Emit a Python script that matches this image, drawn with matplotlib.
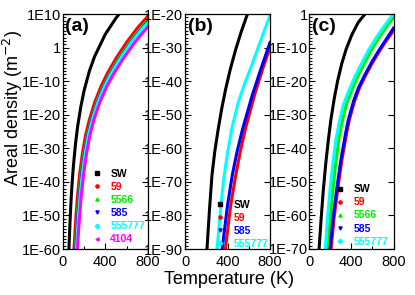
import numpy as np
import matplotlib.pyplot as plt
from matplotlib.lines import Line2D
from matplotlib.ticker import FixedLocator, FuncFormatter, NullFormatter

plt.rcParams['font.family'] = ['Liberation Sans', 'DejaVu Sans']

# series names / colours / markers
colors = {"SW": "black", "59": "#ff0000", "5566": "#00ee00", "585": "#0000ff",
          "555777": "#00ffff", "4104": "#ff00ff"}
markers = {"SW": "s", "59": "o", "5566": "^", "585": "v", "555777": "D", "4104": "<"}

# panel (a): temperature (K) and log10 of areal density (m^-2)
a_sw_T = [55, 60, 70, 80, 90, 100, 120, 140, 170, 200, 250, 300, 400, 500, 530, 560]
a_sw_logn = [-63.4, -58.6, -50.8, -44.6, -39.6, -35.4, -28.7, -23.5, -17.6, -12.9, -7.0, -2.6, 4.0, 8.8, 10.0, 11.1]
a_59_T = [100, 106, 115, 125, 140, 160, 185, 215, 250, 300, 360, 420, 500, 600, 700, 800]
a_59_logn = [-63.5, -60, -55, -50, -44, -37.5, -31.5, -26, -21.5, -16.3, -11.5, -7.6, -3.2, 1.6, 5.8, 9.4]
a_5566_T = [113, 119, 128, 138, 154, 174, 200, 231, 267, 319, 381, 444, 527, 631, 734, 800]
a_5566_logn = [-63.5, -60, -55, -50, -44, -37.5, -31.5, -26, -21.5, -16.3, -11.5, -7.6, -3.2, 1.6, 5.8, 8.2]
a_585_T = [118, 124, 133, 143, 158, 179, 205, 236, 272, 325, 388, 452, 536, 641, 745, 800]
a_585_logn = [-63.5, -60, -55, -50, -44, -37.5, -31.5, -26, -21.5, -16.3, -11.5, -7.6, -3.2, 1.6, 5.8, 7.7]
a_555777_T = [123, 129, 138, 148, 163, 184, 210, 241, 277, 330, 393, 457, 541, 646, 750, 800]
a_555777_logn = [-63.5, -60, -55, -50, -44, -37.5, -31.5, -26, -21.5, -16.3, -11.5, -7.6, -3.2, 1.6, 5.8, 7.4]
a_4104_T = [132, 138, 148, 159, 175, 197, 224, 256, 293, 348, 415, 482, 570, 678, 740, 800]
a_4104_logn = [-63.5, -60, -55, -50, -44, -37.5, -31.5, -26, -21.5, -16.3, -11.5, -7.6, -3.2, 1.6, 4.0, 6.2]

# panel (b)
b_sw_T = [200, 207, 230, 254, 280, 311, 345, 381, 425, 476, 530, 588, 610]
b_sw_logn = [-93.5, -90, -78.5, -68, -61, -54.6, -48.3, -42.6, -36.6, -30.7, -25.2, -20, -18.2]
b_59_T = [372, 380, 430, 475, 520, 570, 660, 735, 800]
b_59_logn = [-92, -90, -77, -68.5, -61, -54, -43.5, -36, -30]
b_585_T = [343, 350, 400, 445, 490, 540, 635, 715, 800]
b_585_logn = [-92, -90, -77, -68, -61, -54.5, -44, -36.3, -28.5]
b_555777_T = [296, 302, 335, 365, 400, 445, 500, 556, 620, 683, 740, 800]
b_555777_logn = [-92, -90, -78, -69, -61.5, -53.5, -46.5, -41.2, -36, -30.5, -25.5, -20.5]

# panel (c)
c_sw_T = [88, 93, 110, 133, 155, 181, 205, 238, 270, 309, 350, 404, 465, 530, 560]
c_sw_logn = [-72.5, -70, -62, -52.5, -45, -37.5, -31.5, -25, -19.8, -14.7, -10.5, -6.2, -2.5, 0, 1.1]
c_59_T = [200, 207, 235, 271, 310, 355, 381, 430, 477, 540, 604, 670, 731, 800]
c_59_logn = [-72.5, -70, -61, -52, -43.5, -35.5, -31.5, -26, -22, -18, -14.3, -10.9, -8.0, -5.0]
c_5566_T = [174, 179, 199, 222, 249, 282, 317, 351, 407, 462, 527, 589, 652, 717, 772, 800]
c_5566_logn = [-72, -70, -61, -53, -45, -37, -31.5, -27, -22.5, -18.5, -14.5, -10.8, -7.6, -4.6, -2.2, -1.1]
c_585_T = [190, 197, 225, 261, 300, 345, 371, 420, 467, 530, 594, 660, 721, 800]
c_585_logn = [-72.5, -70, -61, -52, -43.5, -35.5, -31.5, -26, -22, -18, -14.3, -10.9, -8.0, -4.2]
c_555777_T = [147, 152, 172, 195, 222, 255, 290, 324, 380, 435, 500, 562, 625, 690, 745, 800]
c_555777_logn = [-72, -70, -61, -53, -45, -37, -31.5, -27, -22.5, -18.5, -14.5, -10.8, -7.6, -4.6, -2.2, 0]

panels = [
    ("(a)", (-60, 10), [("SW", a_sw_T, a_sw_logn), ("59", a_59_T, a_59_logn),
                        ("5566", a_5566_T, a_5566_logn), ("585", a_585_T, a_585_logn),
                        ("555777", a_555777_T, a_555777_logn), ("4104", a_4104_T, a_4104_logn)],
     (0.35, 0.02)),
    ("(b)", (-90, -20), [("SW", b_sw_T, b_sw_logn), ("59", b_59_T, b_59_logn),
                         ("585", b_585_T, b_585_logn), ("555777", b_555777_T, b_555777_logn)],
     (0.36, 0.0)),
    ("(c)", (-70, 0), [("SW", c_sw_T, c_sw_logn), ("59", c_59_T, c_59_logn),
                       ("5566", c_5566_T, c_5566_logn), ("585", c_585_T, c_585_logn),
                       ("555777", c_555777_T, c_555777_logn)],
     (0.32, 0.01)),
]

lefts = [62.7, 185.0, 309.3]
rights = [148.0, 270.0, 393.5]


def dec_label(v, pos):
    e = int(round(np.log10(v)))
    return "1" if e == 0 else f"1E{e}"


fig = plt.figure(figsize=(4.15, 2.95), dpi=100)
for (tag, (lo, hi), series, leg_xy), l, r in zip(panels, lefts, rights):
    ax = fig.add_axes([l / 415, 46 / 295, (r - l) / 415, 235 / 295])
    for name, T, logn in series:
        ax.plot(T, 10.0 ** np.array(logn), color=colors[name], lw=2.2,
                solid_joinstyle="round")
    ax.set_yscale("log")
    ax.set_xlim(0, 800)
    ax.set_ylim(10.0 ** lo, 10.0 ** hi)
    ax.yaxis.set_major_locator(FixedLocator(10.0 ** np.arange(lo, hi + 1, 10)))
    ax.yaxis.set_minor_locator(FixedLocator(10.0 ** np.arange(lo, hi + 1, 1)))
    ax.yaxis.set_major_formatter(FuncFormatter(dec_label))
    ax.yaxis.set_minor_formatter(NullFormatter())
    ax.xaxis.set_major_locator(FixedLocator([0, 400, 800]))
    ax.xaxis.set_minor_locator(FixedLocator([200, 600]))
    ax.tick_params(which="both", direction="in", labelsize=10.5, width=0.8)
    ax.tick_params(axis="y", pad=1.2)
    ax.tick_params(axis="x", pad=4.0)
    ax.tick_params(which="major", length=4, right=True)
    ax.tick_params(which="minor", length=2)
    for s in ax.spines.values():
        s.set_linewidth(0.9)
    ax.text(0.03, 0.985, tag, transform=ax.transAxes, fontsize=14,
            fontweight="bold", va="top", ha="left")

    handles = [Line2D([], [], color=colors[n], marker=markers[n], ls="none", ms=2.3)
               for n, _, _ in series]
    leg = ax.legend(handles, [n for n, _, _ in series], loc="lower left",
                    bbox_to_anchor=leg_xy, frameon=False, borderpad=0,
                    borderaxespad=0, handlelength=0.8, handletextpad=0.9,
                    labelspacing=0.3, prop={"size": 7.5, "weight": "bold"})
    for txt, (n, _, _) in zip(leg.get_texts(), series):
        txt.set_color(colors[n])

fig.text(13 / 415, 1 - 108 / 295, "Areal density (m$^{-2}$)", rotation=90,
         fontsize=13, ha="center", va="center")
fig.text(229 / 415, 1 - 279 / 295, "Temperature (K)", fontsize=13,
         ha="center", va="center")

fig.savefig("out.png", dpi=100)
